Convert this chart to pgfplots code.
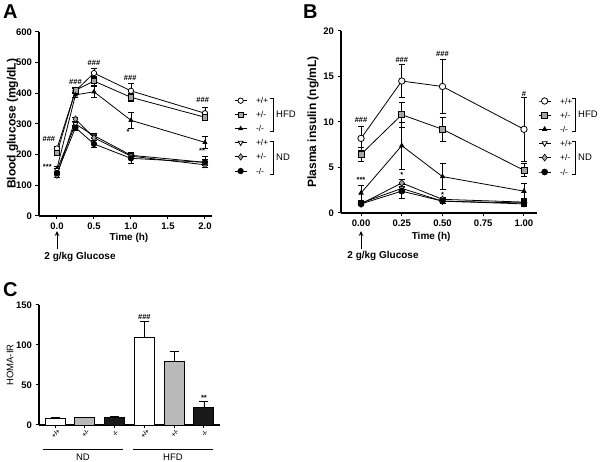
\documentclass[border=0pt]{standalone}
\usepackage{pgfplots}
\pgfplotsset{compat=1.18}
\usepackage{fontspec}
\setmainfont{Liberation Sans}
\usetikzlibrary{arrows.meta}
\definecolor{mgray}{RGB}{165,165,165}
\definecolor{bgray}{RGB}{185,185,185}
\definecolor{bblack}{RGB}{25,25,25}
\pgfplotsset{
 prism/.style={scale only axis, axis lines*=left, axis line style={line width=1.1pt},
   tick align=outside, major tick length=3.5pt,
   every tick/.style={black, line width=1pt},
   tick label style={font=\fontsize{9.5}{10}\selectfont\bfseries},
   /pgf/number format/assume math mode=true, clip=false,
   ylabel style={font=\fontsize{12}{12}\selectfont\bfseries, anchor=center},
   xlabel style={font=\fontsize{10}{10}\selectfont\bfseries, anchor=center},
   legend style={draw=none, fill=none, font=\fontsize{8.5}{8.5}\selectfont, row sep=8pt,
     nodes={inner sep=0pt, text height=6pt, text depth=0pt}, anchor=north west},
   legend cell align=left,
   legend image code/.code={\draw[mark repeat=2,mark phase=2] plot coordinates {(0pt,0pt)(6pt,0pt)(12pt,0pt)} node[right, inner sep=0pt] {\hspace*{9pt}};},
 },
 ser/.style={black, line width=0.8pt,
   error bars/.cd, y dir=both, y explicit,
   error bar style={line width=0.8pt, black},
   error mark options={rotate=90, mark size=3pt, line width=0.8pt, black}},
 mO/.style={mark=*, mark options={solid, fill=white, draw=black, line width=0.8pt, mark size=#1}},
 mS/.style={mark=square*, mark options={solid, fill=mgray, draw=black, line width=0.6pt, mark size=#1}},
 mT/.style={mark=triangle*, mark options={solid, fill=black, draw=black, mark size=#1}},
 mV/.style={mark=triangle*, mark options={solid, fill=white, draw=black, rotate=180, line width=0.8pt, mark size=#1}},
 mD/.style={mark=diamond*, mark options={solid, fill=mgray, draw=black, line width=0.6pt, mark size=#1}},
 mB/.style={mark=*, mark options={solid, fill=black, draw=black, mark size=#1}},
}
\newcommand{\ann}{\fontsize{7.5}{7.5}\selectfont\bfseries}
\begin{document}
\begin{tikzpicture}
\path[use as bounding box] (0,0) rectangle (600pt,462pt);

% ---------------- Panel A ----------------
\begin{axis}[prism, at={(39pt,246pt)}, anchor=south west, width=173pt, height=184pt,
  xmin=-0.243, xmax=2.095, ymin=0, ymax=600,
  xtick={0,0.5,1,1.5,2}, ytick={0,100,...,600},
  xticklabel style={/pgf/number format/.cd, fixed, fixed zerofill, precision=1},
  ylabel={Blood glucose (mg/dL)}, ylabel style={at={(axis description cs:-0.153,0.5)}},
  xlabel={Time (h)}, xlabel style={at={(axis description cs:0.52,0)}, yshift=-22pt},
  legend style={at={(axis description cs:1.11,0.655)}}]
\addplot[mO=2.7pt, ser] coordinates {(0,220) +- (0,8) (0.25,408) +- (0,8) (0.5,466) +- (0,15) (1,408) +- (0,25) (2,335) +- (0,20)};
\addlegendentry{+/+}
\addplot[mS=2.6pt, ser] coordinates {(0,205) +- (0,8) (0.25,410) +- (0,8) (0.5,440) +- (0,15) (1,387) +- (0,12) (2,322) +- (0,10)};
\addlegendentry{+/-}
\addplot[mT=2.2pt, ser] coordinates {(0,155) +- (0,8) (0.25,395) +- (0,8) (0.5,405) +- (0,18) (1,312) +- (0,27) (2,240) +- (0,18)};
\addlegendentry{-/-}
\addplot[mV=2.8pt, ser] coordinates {(0,150) +- (0,6) (0.25,300) +- (0,8) (0.5,262) +- (0,8) (1,198) +- (0,6) (2,175) +- (0,10)};
\addlegendentry{+/+}
\addplot[mD=3.2pt, ser] coordinates {(0,133) +- (0,6) (0.25,316) +- (0,6) (0.5,255) +- (0,8) (1,195) +- (0,6) (2,167) +- (0,10)};
\addlegendentry{+/-}
\addplot[mB=2.7pt, ser] coordinates {(0,140) +- (0,6) (0.25,288) +- (0,8) (0.5,235) +- (0,12) (1,188) +- (0,18) (2,175) +- (0,18)};
\addlegendentry{-/-}
\node[font=\ann] at (axis cs:-0.11,250) {\#\#\#};
\node[font=\ann] at (axis cs:0.25,437) {\#\#\#};
\node[font=\ann] at (axis cs:0.5,499) {\#\#\#};
\node[font=\ann] at (axis cs:0.99,449) {\#\#\#};
\node[font=\ann] at (axis cs:1.97,378) {\#\#\#};
\node[font=\ann] at (axis cs:-0.13,160) {***};
\node[font=\ann] at (axis cs:0.96,274) {*};
\node[font=\ann] at (axis cs:1.96,212) {**};
\end{axis}

% ---------------- Panel B ----------------
\begin{axis}[prism, at={(341pt,249pt)}, anchor=south west, width=196pt, height=182pt,
  xmin=-0.123, xmax=1.08, ymin=0, ymax=20,
  xtick={0,0.25,0.5,0.75,1}, ytick={0,5,...,20},
  xticklabel style={/pgf/number format/.cd, fixed, fixed zerofill, precision=2},
  ylabel={Plasma insulin (ng/mL)}, ylabel style={at={(axis description cs:-0.143,0.5)}},
  xlabel={Time (h)}, xlabel style={at={(axis description cs:0.46,0)}, yshift=-24pt},
  legend style={at={(axis description cs:0.99,0.645)}}]
\addplot[mO=3.2pt, ser] coordinates {(0,8.2) +- (0,1.3) (0.25,14.5) +- (0,1.8) (0.5,13.9) +- (0,3.0) (1,9.2) +- (0,3.5)};
\addlegendentry{+/+}
\addplot[mS=3pt, ser] coordinates {(0,6.45) +- (0,0.8) (0.25,10.8) +- (0,1.4) (0.5,9.2) +- (0,1.3) (1,4.7) +- (0,0.7)};
\addlegendentry{+/-}
\addplot[mT=2.4pt, ser] coordinates {(0,2.2) +- (0,0.8) (0.25,7.4) +- (0,2.6) (0.5,4.0) +- (0,1.4) (1,2.4) +- (0,0.8)};
\addlegendentry{-/-}
\addplot[mV=3pt, ser] coordinates {(0,1.1) +- (0,0.2) (0.25,2.7) +- (0,0.4) (0.5,1.3) +- (0,0.2) (1,1.0) +- (0,0.3)};
\addlegendentry{+/+}
\addplot[mD=3.4pt, ser] coordinates {(0,1.0) +- (0,0.2) (0.25,3.3) +- (0,0.4) (0.5,1.5) +- (0,0.2) (1,1.2) +- (0,0.3)};
\addlegendentry{+/-}
\addplot[mB=2.9pt, ser] coordinates {(0,1.0) +- (0,0.2) (0.25,2.4) +- (0,0.8) (0.5,1.3) +- (0,0.3) (1,1.1) +- (0,0.3)};
\addlegendentry{-/-}
\node[font=\ann] at (axis cs:0,10.2) {\#\#\#};
\node[font=\ann] at (axis cs:0.25,16.8) {\#\#\#};
\node[font=\ann] at (axis cs:0.5,17.5) {\#\#\#};
\node[font=\ann] at (axis cs:1,13.1) {\#};
\node[font=\ann] at (axis cs:0,3.6) {***};
\node[font=\ann] at (axis cs:0.25,4.2) {*};
\node[font=\ann] at (axis cs:0.5,2.0) {*};
\end{axis}

% ---------------- Panel C ----------------
\begin{axis}[prism, at={(39pt,37pt)}, anchor=south west, width=181pt, height=120pt,
  xmin=-0.54, xmax=5.54, ymin=0, ymax=150,
  xtick={0,...,5}, xticklabels={+/+,+/-,-/-,+/+,+/-,-/-}, ytick={0,50,100,150},
  xticklabel style={rotate=45, anchor=center, xshift=-3pt, yshift=-4pt, font=\fontsize{6}{6}\selectfont\bfseries},
  ylabel={HOMA-IR}, ylabel style={at={(axis description cs:-0.16,0.5)}, font=\fontsize{9.5}{10}\selectfont}]
\addplot[ybar, bar shift=0pt, bar width=20pt, fill=white, draw=black, line width=0.9pt,
  error bars/.cd, y dir=plus, y explicit, error bar style={line width=0.8pt, black},
  error mark options={rotate=90, mark size=4.5pt, line width=0.8pt, black}]
  coordinates {(0,8) +- (0,1) (3,110) +- (0,19)};
\addplot[ybar, bar shift=0pt, bar width=20pt, fill=bgray, draw=black, line width=0.9pt,
  error bars/.cd, y dir=plus, y explicit, error bar style={line width=0.8pt, black},
  error mark options={rotate=90, mark size=4.5pt, line width=0.8pt, black}]
  coordinates {(1,9) +- (0,1) (4,79) +- (0,13)};
\addplot[ybar, bar shift=0pt, bar width=20pt, fill=bblack, draw=black, line width=0.9pt,
  error bars/.cd, y dir=plus, y explicit, error bar style={line width=0.8pt, black},
  error mark options={rotate=90, mark size=4.5pt, line width=0.8pt, black}]
  coordinates {(2,9.5) +- (0,1.5) (5,22) +- (0,7)};
\node[font=\ann] at (axis cs:3,135) {\#\#\#};
\node[font=\ann] at (axis cs:5,34) {**};
\end{axis}

% group lines in C
\draw[line width=0.8pt] (43pt,13pt) -- (123pt,13pt);
\draw[line width=0.8pt] (133pt,13pt) -- (213pt,13pt);
\node[font=\fontsize{9.5}{10}\selectfont] at (83pt,5pt) {ND};
\node[font=\fontsize{9.5}{10}\selectfont] at (173pt,5pt) {HFD};

% brackets A
\draw[line width=0.8pt] (270pt,364pt) -- (273pt,364pt) -- (273pt,331pt) -- (270pt,331pt);
\draw[line width=0.8pt] (270pt,321pt) -- (273pt,321pt) -- (273pt,288pt) -- (270pt,288pt);
\node[anchor=west, inner sep=0pt, font=\fontsize{9.5}{10}\selectfont] at (276pt,348pt) {HFD};
\node[anchor=west, inner sep=0pt, font=\fontsize{9.5}{10}\selectfont] at (276pt,305pt) {ND};
% brackets B
\draw[line width=0.8pt] (572pt,364pt) -- (575pt,364pt) -- (575pt,331pt) -- (572pt,331pt);
\draw[line width=0.8pt] (572pt,321pt) -- (575pt,321pt) -- (575pt,288pt) -- (572pt,288pt);
\node[anchor=west, inner sep=0pt, font=\fontsize{9.5}{10}\selectfont] at (578pt,348pt) {HFD};
\node[anchor=west, inner sep=0pt, font=\fontsize{9.5}{10}\selectfont] at (578pt,305pt) {ND};

% arrows and glucose labels
\draw[line width=1pt, -{Stealth[length=5pt,width=4.5pt]}] (57pt,213pt) -- (57pt,231pt);
\node[font=\fontsize{10}{10}\selectfont\bfseries] at (80pt,205pt) {2 g/kg Glucose};
\draw[line width=1pt, -{Stealth[length=5pt,width=4.5pt]}] (361pt,213pt) -- (361pt,231pt);
\node[font=\fontsize{10}{10}\selectfont\bfseries] at (383pt,206pt) {2 g/kg Glucose};

% panel letters
\node[anchor=north west, inner sep=0pt, font=\fontsize{20}{20}\selectfont\bfseries] at (3pt,457pt) {A};
\node[anchor=north west, inner sep=0pt, font=\fontsize{20}{20}\selectfont\bfseries] at (303pt,457pt) {B};
\node[anchor=north west, inner sep=0pt, font=\fontsize{20}{20}\selectfont\bfseries] at (3pt,180pt) {C};
\end{tikzpicture}
\end{document}
